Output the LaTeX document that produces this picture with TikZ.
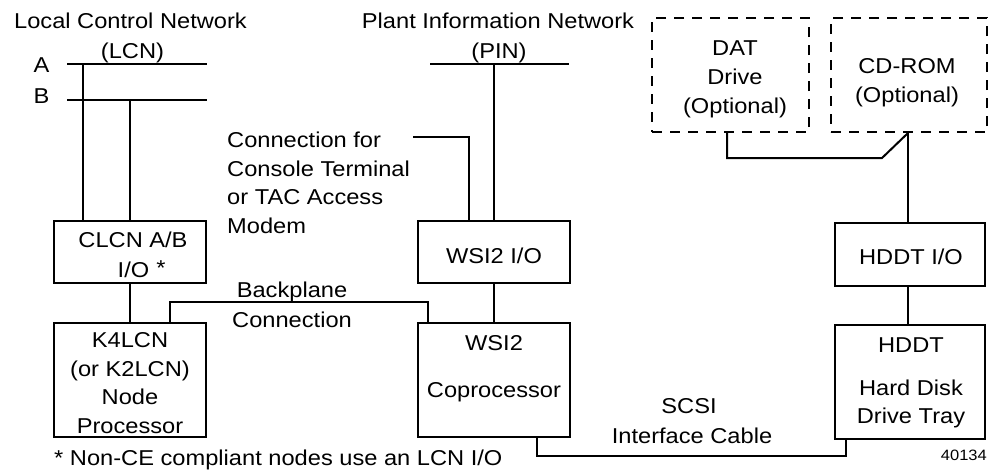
\documentclass[tikz,border=0pt]{standalone}
\usepackage{fontspec}
\setmainfont{Liberation Sans}[FakeStretch=1.1]
\begin{document}
\begin{tikzpicture}[x=1pt,y=-1pt,
  ln/.style={line width=2pt},
  box/.style={draw, line width=2pt, inner sep=0pt, minimum width=#1},
  dbox/.style={box=#1, dash pattern=on 10pt off 8pt},
  txt/.style={inner sep=0pt, anchor=base, font=\fontsize{21.5}{26}\selectfont},
  small/.style={inner sep=0pt, font=\fontsize{15}{18}\selectfont}]
\useasboundingbox (0,0) rectangle (992,471);

% boxes
\node[box=152, minimum height=62] (clcn) at (130,252) {};
\node[box=152, minimum height=114] (k4) at (130,380) {};
\node[box=152, minimum height=62] (wsiio) at (494,252) {};
\node[box=152, minimum height=114] (wsi) at (494,380) {};
\node[box=150, minimum height=63] (hddtio) at (910,254) {};
\node[box=150, minimum height=114] (hddt) at (910,382) {};
\node[dbox=157, minimum height=114] (dat) at (730.5,75) {};
\node[dbox=156, minimum height=114] (cd) at (909,75) {};

% network titles
\node[txt] (lcnt) at (130.5,28) {Local Control Network};
\node[txt] (lcna) at (132.5,58) {(LCN)};
\node[txt] (la) at (41.5,72) {A};
\node[txt] (lb) at (41.5,103) {B};
\node[txt] (pint) at (498,28) {Plant Information Network};
\node[txt] (pina) at (499,58) {(PIN)};

% console text
\foreach \t/\y [count=\i] in {Connection for/147, Console Terminal/176, or TAC Access/204, Modem/233}
  \node[txt, anchor=base west] (con\i) at (227,\y) {\t};

% optional drives
\foreach \t/\y [count=\i] in {DAT/55, Drive/84, (Optional)/113}
  \node[txt] (datt\i) at (735,\y) {\t};
\foreach \t/\y [count=\i] in {CD-ROM/73, (Optional)/102}
  \node[txt] (cdt\i) at (907,\y) {\t};

% box texts
\node[txt] (clcnt1) at (133,247) {CLCN A/B};
\node[txt] (clcnt2) at (133.5,277) {I/O};
\node[txt] (clcnst) at (161,275) {*};
\foreach \t/\y [count=\i] in {K4LCN/347, (or K2LCN)/376, Node/404, Processor/433}
  \node[txt] (k4t\i) at (130,\y) {\t};
\node[txt] (bpt1) at (292,297) {Backplane};
\node[txt] (bpt2) at (292,327) {Connection};
\node[txt] (wsiiot) at (494,263) {WSI2 I/O};
\node[txt] (wsit1) at (494,350) {WSI2};
\node[txt] (wsit2) at (494,397) {Coprocessor};
\node[txt] (hddtiot) at (911,264) {HDDT I/O};
\foreach \t/\y [count=\i] in {HDDT/352, Hard Disk/395, Drive Tray/423}
  \node[txt] (hddtt\i) at (911,\y) {\t};
\node[txt] (scsi1) at (689,413) {SCSI};
\node[txt] (scsi2) at (692,443) {Interface Cable};
\node[small, anchor=base east] (fig) at (987,460) {40134};
\node[txt, anchor=base west] (foot) at (54,465) {*\ Non-CE compliant nodes use an LCN I/O};

% coordinates
\coordinate (lcnAw) at (67,64);  \coordinate (lcnAe) at (207,64);
\coordinate (lcnBw) at (67,100); \coordinate (lcnBe) at (207,100);
\coordinate (tapA) at (82.5,64); \coordinate (tapB) at (130,100);
\coordinate (bpL) at (170,302);  \coordinate (bpR) at (428,302);
\coordinate (pinW) at (430,64);  \coordinate (pinE) at (569,64);
\coordinate (pinT) at (494,64);
\coordinate (conE) at (413,137); \coordinate (conC) at (469,137);
\coordinate (scL) at (537,456);  \coordinate (scR) at (846,456);
\coordinate (hv) at (908,0);
\coordinate (datB) at (727,158); \coordinate (datK) at (882,158);

% connectors
\draw[ln] (lcnAw) -- (lcnAe);
\draw[ln] (lcnBw) -- (lcnBe);
\draw[ln] (tapA) -- (tapA |- clcn.north);
\draw[ln] (tapB) -- (clcn.north);
\draw[ln] (clcn.south) -- (k4.north);
\draw[ln] (bpL |- k4.north) -- (bpL) -- (bpR) -- (bpR |- wsi.north);
\draw[ln] (pinW) -- (pinE);
\draw[ln] (pinT) -- (wsiio.north);
\draw[ln] (conE) -- (conC) -- (conC |- wsiio.north);
\draw[ln] (wsiio.south) -- (wsi.north);
\draw[ln] (scL |- wsi.south) -- (scL) -- (scR) -- (scR |- hddt.south);
\draw[ln] (hv |- cd.south) -- (hv |- hddtio.north);
\draw[ln] (hv |- hddtio.south) -- (hv |- hddt.north);
\draw[ln] (datB |- dat.south) -- (datB) -- (datK) -- (hv |- cd.south);
\end{tikzpicture}
\end{document}
